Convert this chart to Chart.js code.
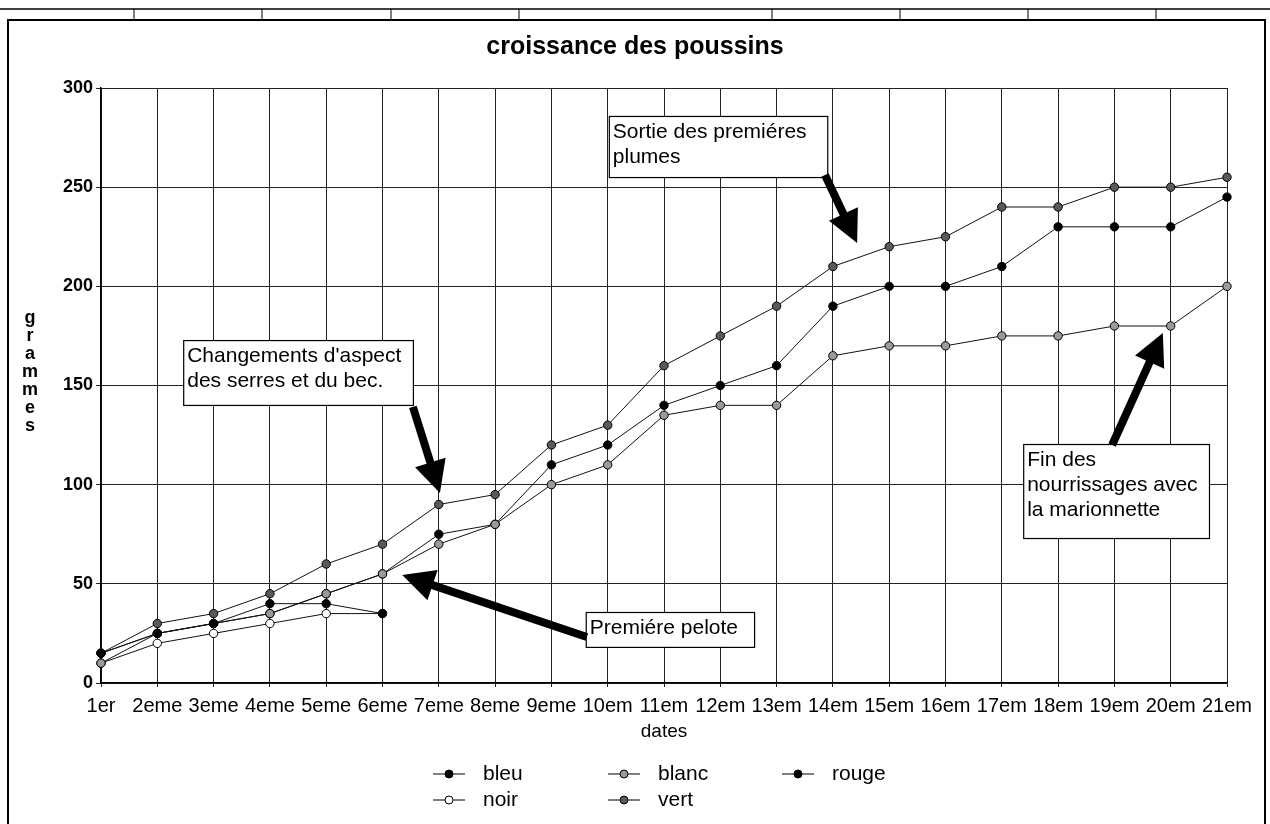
<!DOCTYPE html>
<html><head><meta charset="utf-8">
<script src="https://cdn.jsdelivr.net/npm/chart.js@4.4.1/dist/chart.umd.min.js"></script>
<style>html,body{margin:0;padding:0;background:#fff;}canvas{display:block;}</style>
</head><body>
<canvas id="c" width="1270" height="824"></canvas>
<script>
// ---------- data ----------
const categories = ['1er','2eme','3eme','4eme','5eme','6eme','7eme','8eme','9eme','10em','11em','12em','13em','14em','15em','16em','17em','18em','19em','20em','21em'];
const bleu  = [15,25,30,40,40,35,null,null,null,null,null,null,null,null,null,null,null,null,null,null,null];
const blanc = [10,25,30,35,45,55,70,80,100,110,135,140,140,165,170,170,175,175,180,180,200];
const rouge = [15,25,30,35,45,55,75,80,110,120,140,150,160,190,200,200,210,230,230,230,245];
const noir  = [10,20,25,30,35,35,null,null,null,null,null,null,null,null,null,null,null,null,null,null,null];
const vert  = [15,30,35,45,60,70,90,95,120,130,160,175,190,210,220,225,240,240,250,250,255];
const seriesNames = ['bleu','blanc','rouge','noir','vert'];
const yTicks = [0,50,100,150,200,250,300];
const chartTitle = 'croissance des poussins';
const xTitle = 'dates';
const yTitle = 'grammes';
const noteTexts = [
  ['Sortie des premiéres','plumes'],
  ["Changements d'aspect",'des serres et du bec.'],
  ['Premiére pelote'],
  ['Fin des','nourrissages avec','la marionnette']
];

// ---------- styling / layout ----------
const FONT = "'Liberation Sans', Arial, sans-serif";
Chart.defaults.font.family = FONT;
Chart.defaults.color = '#000';

const pointFill = ['#000','#9a9a9a','#000','#fff','#5a5a5a'];
const seriesData = [bleu, blanc, rouge, noir, vert];

// annotation layout in data coordinates (category index, grams)
const noteLayout = [
  {box:[9.02,285.9,12.9,255.1], arrow:[12.86,256.1,13.43,221.9]},
  {box:[1.46,172.9,5.54,140.2], arrow:[5.54,139.2,6.02,95.8]},
  {box:[8.61,35.8,11.6,18.2],  arrow:[8.63,23.2,5.35,54.5]},
  {box:[16.38,120.5,19.68,73.1], arrow:[17.96,120.0,18.86,176.5]}
];

function drawArrow(ctx,x1,y1,x2,y2,shaftW,headL,headW){
  const ang=Math.atan2(y2-y1,x2-x1), len=Math.hypot(x2-x1,y2-y1);
  ctx.save(); ctx.translate(x1,y1); ctx.rotate(ang);
  ctx.beginPath();
  ctx.moveTo(0,-shaftW/2); ctx.lineTo(len-headL,-shaftW/2); ctx.lineTo(len-headL,-headW/2);
  ctx.lineTo(len,0); ctx.lineTo(len-headL,headW/2); ctx.lineTo(len-headL,shaftW/2); ctx.lineTo(0,shaftW/2);
  ctx.closePath(); ctx.fillStyle='#000'; ctx.fill(); ctx.restore();
}

const extras = {
  id:'extras',
  afterDraw(chart){
    const ctx=chart.ctx, xs=chart.scales.x, ys=chart.scales.y, ca=chart.chartArea;
    const px=v=>xs.getPixelForValue(v), py=v=>ys.getPixelForValue(v);
    ctx.save();
    // title (centred on the page)
    ctx.fillStyle='#000'; ctx.font='bold 25px '+FONT; ctx.textAlign='center'; ctx.textBaseline='middle';
    ctx.fillText(chartTitle, chart.width/2, 47);
    // annotations
    noteLayout.forEach((n,i)=>{
      const bx1=px(n.box[0]), by1=py(n.box[1]), bx2=px(n.box[2]), by2=py(n.box[3]);
      ctx.fillStyle='#fff'; ctx.fillRect(bx1,by1,bx2-bx1,by2-by1);
      ctx.strokeStyle='#000'; ctx.lineWidth=1.2; ctx.strokeRect(bx1+0.5,by1+0.5,bx2-bx1,by2-by1);
      ctx.fillStyle='#000'; ctx.font='21px '+FONT; ctx.textBaseline='alphabetic'; ctx.textAlign='left';
      noteTexts[i].forEach((t,k)=>ctx.fillText(t,bx1+4,by1+22+k*25));
      drawArrow(ctx,px(n.arrow[0]),py(n.arrow[1]),px(n.arrow[2]),py(n.arrow[3]),8,32,32);
    });
    // vertical y title
    ctx.font='bold 18px '+FONT; ctx.textAlign='center'; ctx.textBaseline='middle'; ctx.fillStyle='#000';
    [...yTitle].forEach((ch,k)=>ctx.fillText(ch, ca.left-71, ca.top+230+k*18));
    // legend
    const colX=[433,608,782], rowY=[774,800];
    chart.data.datasets.forEach((ds,i)=>{
      const x=colX[i%3], y=rowY[Math.floor(i/3)];
      ctx.strokeStyle='#000'; ctx.lineWidth=1;
      ctx.beginPath(); ctx.moveTo(x,y); ctx.lineTo(x+32,y); ctx.stroke();
      ctx.beginPath(); ctx.arc(x+16,y,4,0,Math.PI*2); ctx.fillStyle=ds.pointBackgroundColor; ctx.fill(); ctx.stroke();
      ctx.fillStyle='#000'; ctx.font='21px '+FONT; ctx.textAlign='left'; ctx.textBaseline='middle';
      ctx.fillText(ds.label, x+50, y);
    });
    // outer frame
    ctx.strokeStyle='#000'; ctx.lineWidth=2;
    ctx.beginPath(); ctx.moveTo(8,824); ctx.lineTo(8,20); ctx.lineTo(1265,20); ctx.lineTo(1265,824); ctx.stroke();
    ctx.lineWidth=1.5; ctx.beginPath(); ctx.moveTo(0,9); ctx.lineTo(1270,9); ctx.stroke();
    ctx.lineWidth=1;
    [134,262,391,519,772,900,1028,1156].forEach(x=>{ctx.beginPath();ctx.moveTo(x,9);ctx.lineTo(x,20);ctx.stroke();});
    ctx.restore();
  }
};

new Chart(document.getElementById('c'),{
  type:'line',
  data:{
    labels:categories,
    datasets:seriesNames.map((name,i)=>({
      label:name, data:seriesData[i],
      borderColor:'#111', borderWidth:1, tension:0, fill:false, spanGaps:false,
      pointStyle:'circle', pointRadius:4.2, pointBorderWidth:1, pointBorderColor:'#000',
      pointBackgroundColor:pointFill[i]
    }))
  },
  options:{
    responsive:false, animation:false, devicePixelRatio:1,
    layout:{padding:{left:8,right:43,top:88,bottom:0}},
    plugins:{
      legend:{display:false}, tooltip:{enabled:false}, title:{display:false}
    },
    scales:{
      x:{
        type:'category', offset:false,
        grid:{color:'#222',lineWidth:1,tickLength:4,offset:false},
        border:{color:'#000',width:1.5},
        ticks:{autoSkip:false,maxRotation:0,minRotation:0,padding:7,color:'#000',font:{size:20,family:FONT}},
        title:{display:true,text:xTitle,color:'#000',font:{size:19,family:FONT},padding:{top:0,bottom:81}},
        afterFit(s){s.height=141;}
      },
      y:{
        min:0,max:300,
        afterBuildTicks(s){s.ticks=yTicks.map(v=>({value:v}));},
        grid:{color:'#222',lineWidth:1,tickLength:5},
        border:{color:'#000',width:1.5},
        ticks:{padding:3,color:'#000',font:{size:18,weight:'bold',family:FONT}},
        afterFit(s){s.width=93;}
      }
    }
  },
  plugins:[extras]
});
</script>
</body></html>
